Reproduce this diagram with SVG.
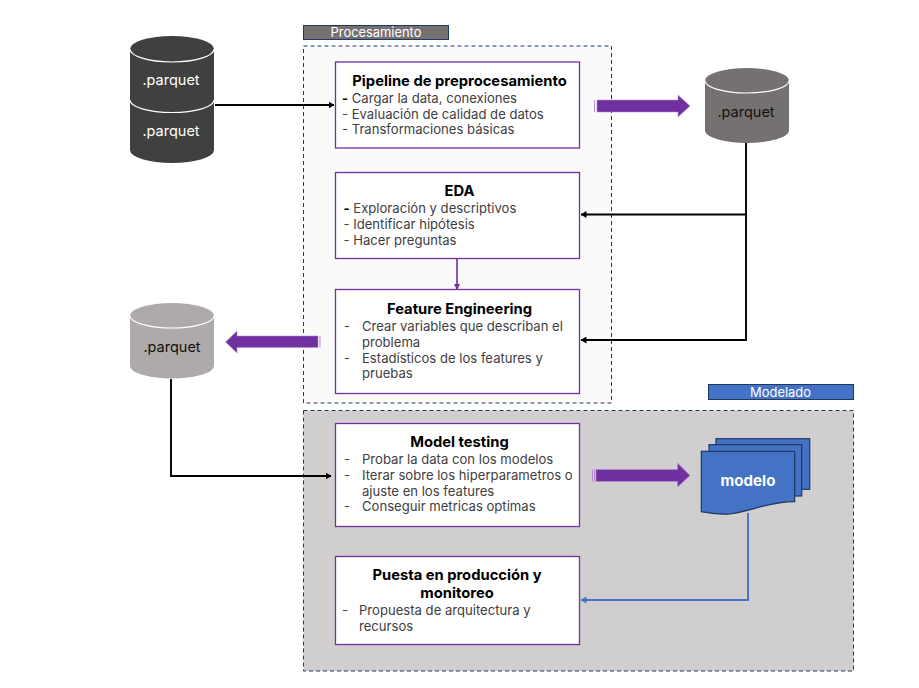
<svg xmlns="http://www.w3.org/2000/svg" width="919" height="688" viewBox="0 0 919 688">
<style>
text{font-family:Inter,"Noto Sans","Liberation Sans",sans-serif}
.box{fill:#fff;stroke:#7030a0;stroke-width:1.3}
.t{font-size:14.75px;font-weight:700;fill:#000;text-anchor:middle}
.b{font-size:13.1px;fill:#404040}
.d{fill:#000;font-weight:700}
.c{font-size:14.5px;text-anchor:middle}
.tag{font-size:12.9px;fill:#fff;text-anchor:middle}
.frame{stroke:#1f3864;stroke-width:1;stroke-dasharray:4 3}
.arc{fill:none;stroke:#fff;stroke-width:1.2}
.k{fill:none;stroke:#000;stroke-width:1.9}
.fat{fill:#7030a0;stroke:#b48fd0;stroke-width:.6}
.doc{fill:#4472c4;stroke:#1f3864;stroke-width:1.2}
</style>
<defs>
<marker id="ak" markerWidth="6" markerHeight="7" refX="5.500" refY="3" orient="auto" markerUnits="userSpaceOnUse" viewBox="0 0 6 6" preserveAspectRatio="none"><path d="M0 0L6 3L0 6Z" fill="#000"/></marker>
<marker id="ap" markerWidth="6" markerHeight="6" refX="5" refY="3" orient="auto" markerUnits="userSpaceOnUse" viewBox="0 0 6 6"><path d="M0 0L6 3L0 6Z" fill="#7030a0"/></marker>
<marker id="ab" markerWidth="6" markerHeight="7" refX="5.500" refY="3" orient="auto" markerUnits="userSpaceOnUse" viewBox="0 0 6 6" preserveAspectRatio="none"><path d="M0 0L6 3L0 6Z" fill="#4472c4"/></marker>
</defs>
<g id="frame-procesamiento"><rect x="303.500" y="46" width="308" height="357" fill="#fafafa" class="frame"/></g>
<g id="frame-modelado"><rect x="303.500" y="410.500" width="550" height="260.500" fill="#d0cece" class="frame"/></g>
<g id="tag-procesamiento"><rect x="303.500" y="25.500" width="145" height="14" fill="#767171" stroke="#1f3864"/><text class="tag" x="376" y="37">Procesamiento</text></g>
<g id="tag-modelado"><rect x="708.500" y="384.500" width="145" height="15" fill="#4472c4" stroke="#1f3864"/><text class="tag" x="780.500" y="396.500">Modelado</text></g>
<g id="connectors">
<path class="k" d="M215 105H334" marker-end="url(#ak)"/>
<path class="k" d="M746 143V340H581" marker-end="url(#ak)"/>
<path class="k" d="M746 214.500H581" marker-end="url(#ak)"/>
<path class="k" d="M171 379V476H331" marker-end="url(#ak)"/>
<path d="M457 259V289" fill="none" stroke="#7030a0" stroke-width="1.6" marker-end="url(#ap)"/>
<path d="M748 513V600H581" fill="none" stroke="#4472c4" stroke-width="1.9" marker-end="url(#ab)"/>
<path class="fat" d="M597 100H678V95L690 106L678 117V112H597Z"/>
<path d="M594.500 100V112" stroke="#b48fd0" stroke-width="1"/>
<path class="fat" d="M318 336H237V331L225.500 342L237 353V347.500H318Z"/>
<path d="M320 336V347.500" stroke="#b48fd0" stroke-width="1"/>
<path class="fat" d="M596 469.500H677.500V463L690 475.500L677.500 487V481.500H596Z"/>
<path d="M592.500 469.500V481.500M594.500 469.500V481.500" stroke="#b48fd0" stroke-width="1"/>
</g>
<g id="db-double">
<path d="M130 49A42 13 0 0 1 214 49V150A42 13 0 0 1 130 150Z" fill="#404040"/>
<path class="arc" d="M130 49A42 13 0 0 0 214 49"/>
<path class="arc" d="M130 100A42 12.500 0 0 0 214 100"/>
<text class="c" x="171" y="85" fill="#fff">.parquet</text>
<text class="c" x="171" y="136" fill="#fff">.parquet</text>
</g>
<g id="db-gray">
<path d="M705 80.500A42 12.500 0 0 1 789 80.500V130.500A42 12.500 0 0 1 705 130.500Z" fill="#767171"/>
<path class="arc" d="M705 80.500A42 12.500 0 0 0 789 80.500"/>
<text class="c" x="746" y="117" fill="#111">.parquet</text>
</g>
<g id="db-light">
<path d="M130 315.500A42 12.500 0 0 1 214 315.500V366A42 12.500 0 0 1 130 366Z" fill="#aeaaaa"/>
<path class="arc" d="M130 315.500A42 12.500 0 0 0 214 315.500"/>
<text class="c" x="172" y="352" fill="#111">.parquet</text>
</g>
<g id="node-pipeline">
<rect class="box" x="335.500" y="62" width="244" height="86"/>
<text class="t" x="459.500" y="86">Pipeline de preprocesamiento</text>
<text class="b" x="342" y="102.500"><tspan class="d">-</tspan> Cargar la data, conexiones</text>
<text class="b" x="342" y="118.500">- Evaluación de calidad de datos</text>
<text class="b" x="342" y="134">- Transformaciones básicas</text>
</g>
<g id="node-eda">
<rect class="box" x="335.500" y="172.500" width="244" height="86"/>
<text class="t" x="459.500" y="196">EDA</text>
<text class="b" x="343.500" y="212.500"><tspan class="d">-</tspan> Exploración y descriptivos</text>
<text class="b" x="343.500" y="228.500">- Identificar hipótesis</text>
<text class="b" x="343.500" y="244.500">- Hacer preguntas</text>
</g>
<g id="node-feature">
<rect class="box" x="335.500" y="289.500" width="244" height="104"/>
<text class="t" x="459.500" y="314">Feature Engineering</text>
<text class="b" x="344" y="330.500">-</text><text class="b" x="362" y="330.500">Crear variables que describan el</text>
<text class="b" x="362" y="346.500">problema</text>
<text class="b" x="344" y="362.500">-</text><text class="b" x="362" y="362.500">Estadísticos de los features y</text>
<text class="b" x="362" y="377.500">pruebas</text>
</g>
<g id="node-testing">
<rect class="box" x="335.500" y="423.500" width="244" height="103"/>
<text class="t" x="459.500" y="447">Model testing</text>
<text class="b" x="344" y="463.500">-</text><text class="b" x="362" y="463.500">Probar la data con los modelos</text>
<text class="b" x="344" y="479.500">-</text><text class="b" x="362" y="479.500">Iterar sobre los hiperparametros o</text>
<text class="b" x="362" y="495.500">ajuste en los features</text>
<text class="b" x="344" y="510.500">-</text><text class="b" x="362" y="510.500">Conseguir metricas optimas</text>
</g>
<g id="node-puesta">
<rect class="box" x="335.500" y="556.500" width="244" height="88"/>
<text class="t" x="457" y="580">Puesta en producción y</text>
<text class="t" x="457" y="598">monitoreo</text>
<text class="b" x="342" y="614.500">-</text><text class="b" x="359" y="614.500">Propuesta de arquitectura y</text>
<text class="b" x="359" y="630.500">recursos</text>
</g>
<g id="node-modelo">
<rect class="doc" x="716" y="438.700" width="93.700" height="50.600"/>
<rect class="doc" x="709" y="444.700" width="92.700" height="51.300"/>
<path class="doc" d="M701.300 451.300H794.700V501.700C770 501.500 755 510 730 514C718 515 709 513 701.300 511.700Z"/>
<text x="748" y="486" text-anchor="middle" font-size="15.100" font-weight="700" fill="#fff">modelo</text>
</g>
</svg>
